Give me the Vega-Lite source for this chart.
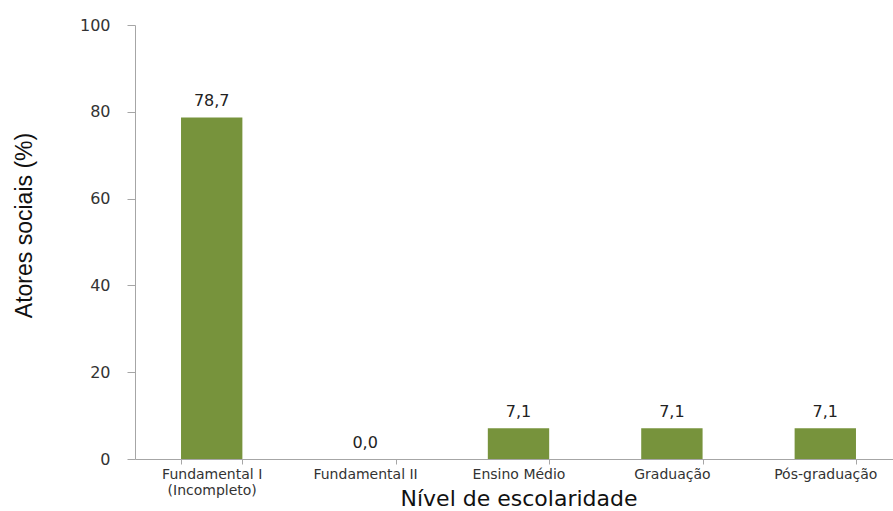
{
  "$schema": "https://vega.github.io/schema/vega-lite/v6.json",
  "autosize": {"type": "none"},
  "padding": {"left": 135, "top": 25, "right": 0, "bottom": 52},
  "width": 767,
  "height": 434,
  "config": {
    "view": {"stroke": null},
    "locale": {"number": {"decimal": ",", "thousands": ".", "grouping": [3], "currency": ["R$", ""]}}
  },
  "data": {
    "values": [
      {"nivel": "Fundamental I|(Incompleto)", "pct": 78.7},
      {"nivel": "Fundamental II", "pct": 0.0},
      {"nivel": "Ensino Médio", "pct": 7.1},
      {"nivel": "Graduação", "pct": 7.1},
      {"nivel": "Pós-graduação", "pct": 7.1}
    ]
  },
  "encoding": {
    "x": {
      "field": "nivel", "type": "nominal", "sort": null,
      "scale": {"paddingInner": 0.6, "paddingOuter": 0.3},
      "axis": {
        "title": "Nível de escolaridade",
        "labelExpr": "split(datum.label, '|')",
        "labelAngle": 0,
        "labelFont": "DejaVu Sans", "labelFontSize": 14, "labelColor": "#333333",
        "labelLineHeight": 16, "labelPadding": 3, "labelBaseline": "top",
        "tickBand": "extent", "tickSize": 5, "tickColor": "#A6A6A6",
        "domainColor": "#A6A6A6",
        "titleFont": "DejaVu Sans", "titleFontSize": 22, "titleFontWeight": "normal", "titleColor": "#111111",
        "titleY": 39, "titleBaseline": "middle"
      }
    },
    "y": {
      "field": "pct", "type": "quantitative",
      "scale": {"domain": [0, 100]},
      "axis": {
        "title": "Atores sociais (%)",
        "values": [0, 20, 40, 60, 80, 100],
        "grid": false,
        "labelFont": "DejaVu Sans", "labelFontSize": 16, "labelColor": "#333333",
        "labelPadding": 17, "tickSize": 8, "tickColor": "#A6A6A6", "domainColor": "#A6A6A6",
        "titleFont": "Liberation Sans Narrow, Liberation Sans", "titleFontSize": 23, "titleFontWeight": "normal", "titleColor": "#111111",
        "titleX": -111, "titleY": 200, "titleBaseline": "middle"
      }
    }
  },
  "layer": [
    {"mark": {"type": "bar", "color": "#77933C"}},
    {
      "mark": {"type": "text", "dy": -11, "baseline": "alphabetic", "font": "DejaVu Sans", "fontSize": 16, "color": "#222222"},
      "encoding": {"text": {"field": "pct", "type": "quantitative", "format": ".1f"}}
    }
  ]
}
